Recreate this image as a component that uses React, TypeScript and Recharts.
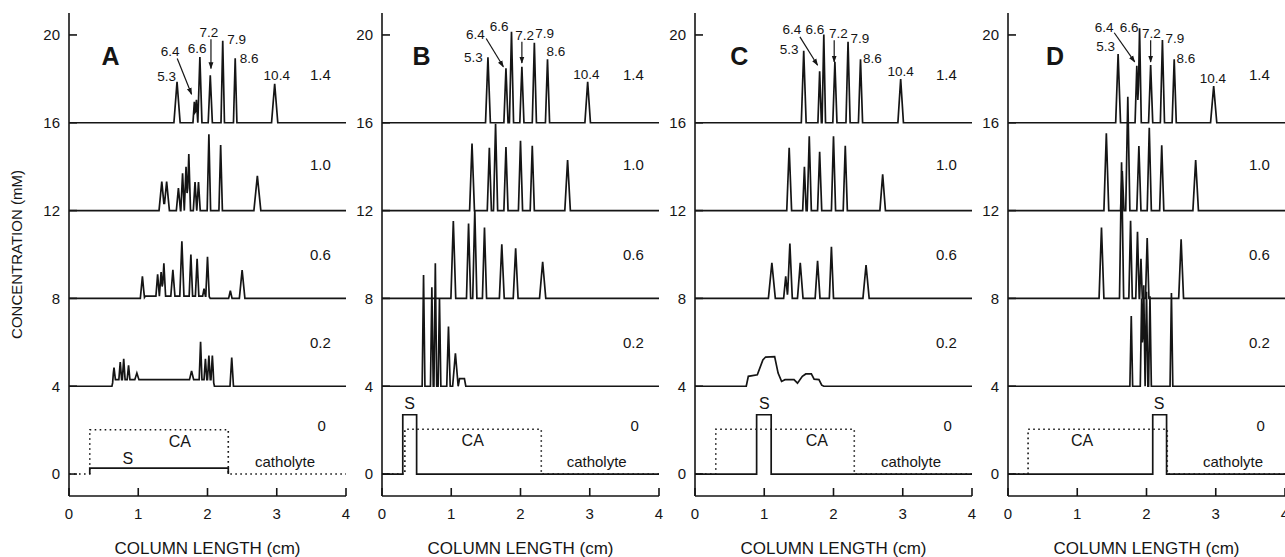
import { LineChart, Line, XAxis, YAxis, ReferenceDot, ReferenceLine } from 'recharts';

// column length ticks (cm) and concentration ticks (mM)
const X_TICKS = [0, 1, 2, 3, 4];
const Y_TICKS = [0, 4, 8, 12, 16, 20];

// vertical offsets of the stacked traces and their labels (current, mA)
const OFFSETS = [16, 12, 8, 4];
const RUN_LABELS = ['1.4', '1.0', '0.6', '0.2', '0'];
const RUN_LABEL_Y = [18.2, 14.1, 10.0, 6.0, 2.2];
const PI_LABELS = ['5.3', '6.4', '6.6', '7.2', '7.9', '8.6', '10.4'];

// peaks: [position cm, height mM, half width cm, flat half-top cm]
const A_14 = [[1.56, 1.86, 0.045], [1.81, 0.95, 0.02], [1.84, 1.05, 0.02], [1.89, 3.0, 0.03], [2.04, 2.16, 0.03], [2.22, 3.74, 0.025], [2.4, 2.94, 0.025], [2.97, 1.78, 0.045]];
const A_10 = [[1.34, 1.32, 0.04], [1.41, 1.32, 0.04], [1.58, 1.03, 0.03], [1.64, 1.7, 0.025], [1.69, 2.0, 0.025], [1.73, 2.58, 0.025], [1.82, 1.3, 0.025], [1.87, 1.3, 0.025], [2.02, 3.48, 0.025], [2.19, 2.99, 0.025], [2.72, 1.58, 0.05]];
const A_06 = [[1.56, 0.1, 0.02, 0.46], [1.06, 1.0, 0.03], [1.28, 1.0, 0.025], [1.33, 1.1, 0.025], [1.37, 1.5, 0.025], [1.5, 1.2, 0.03], [1.63, 2.5, 0.03], [1.76, 1.9, 0.025], [1.85, 1.7, 0.025], [1.95, 0.35, 0.02], [2.0, 1.8, 0.025], [2.33, 0.35, 0.025], [2.5, 1.29, 0.04]];
const A_02 = [[1.36, 0.3, 0.02, 0.72], [0.65, 0.55, 0.02], [0.74, 0.8, 0.02], [0.79, 0.95, 0.02], [0.86, 0.65, 0.02], [0.98, 0.3, 0.03], [1.77, 0.4, 0.03], [1.9, 1.73, 0.02], [1.97, 0.95, 0.02], [2.02, 1.1, 0.02], [2.07, 1.1, 0.02], [2.35, 1.31, 0.025]];

const B_14 = [[1.53, 2.98, 0.035], [1.79, 2.48, 0.03], [1.87, 4.14, 0.03], [2.02, 2.55, 0.03], [2.2, 3.64, 0.03], [2.39, 2.89, 0.03], [2.97, 1.87, 0.04]];
const B_10 = [[1.3, 3.06, 0.035], [1.55, 2.86, 0.03], [1.64, 3.95, 0.03], [1.79, 2.9, 0.03], [2.0, 3.18, 0.03], [2.17, 2.95, 0.03], [2.68, 2.3, 0.04]];
const B_06 = [[1.03, 3.53, 0.035], [1.25, 3.41, 0.03], [1.34, 4.02, 0.03], [1.48, 3.23, 0.03], [1.73, 2.46, 0.035], [1.93, 2.28, 0.035], [2.32, 1.67, 0.045]];
const B_02 = [[0.6, 5.07, 0.02], [0.72, 4.51, 0.02], [0.77, 5.6, 0.02], [0.83, 4.0, 0.02], [0.96, 2.72, 0.025], [1.06, 1.5, 0.04], [1.155, 0.35, 0.02, 0.035]];

const C_14 = [[1.57, 3.28, 0.035], [1.8, 2.35, 0.025], [1.86, 4.02, 0.025], [2.02, 2.78, 0.03], [2.21, 3.69, 0.03], [2.39, 2.89, 0.03], [2.97, 1.99, 0.04]];
const C_10 = [[1.36, 2.86, 0.035], [1.58, 2.0, 0.025], [1.65, 3.39, 0.03], [1.8, 2.68, 0.03], [2.0, 3.39, 0.03], [2.17, 2.95, 0.03], [2.71, 1.65, 0.04]];
const C_06 = [[1.11, 1.62, 0.05], [1.31, 1.0, 0.03], [1.37, 2.5, 0.035], [1.52, 1.62, 0.04], [1.77, 1.71, 0.035], [1.97, 2.35, 0.03], [2.47, 1.52, 0.045]];
// this trace is drawn point by point: [cm, mM above baseline]
const C_02_POINTS = [[0, 0], [0.74, 0], [0.77, 0.45], [0.9, 0.52], [0.98, 1.2], [1.02, 1.33], [1.15, 1.35], [1.2, 0.6], [1.25, 0.22], [1.3, 0.3], [1.43, 0.3], [1.48, 0.14], [1.55, 0.45], [1.6, 0.56], [1.68, 0.56], [1.72, 0.32], [1.79, 0.3], [1.83, 0.05], [1.86, 0], [4, 0]];

const D_14 = [[1.59, 3.13, 0.035], [1.86, 2.6, 0.025], [1.9, 4.3, 0.025], [2.06, 2.63, 0.03], [2.23, 3.77, 0.03], [2.4, 2.89, 0.03], [2.97, 1.67, 0.045]];
const D_10 = [[1.42, 3.52, 0.035], [1.65, 1.8, 0.025], [1.73, 5.18, 0.03], [1.89, 2.94, 0.03], [2.04, 3.77, 0.03], [2.22, 2.98, 0.03], [2.71, 2.3, 0.04]];
const D_06 = [[1.35, 3.23, 0.035], [1.64, 6.2, 0.03], [1.77, 3.54, 0.025], [1.87, 3.04, 0.025], [1.92, 1.8, 0.02], [2.01, 2.75, 0.025], [2.5, 2.69, 0.035]];
const D_02 = [[1.78, 3.2, 0.02], [1.93, 4.0, 0.02], [1.96, 4.6, 0.02], [2.0, 4.3, 0.02], [2.05, 4.1, 0.02], [2.36, 4.25, 0.02]];

// initial state: sample (S, solid) and carrier ampholytes (CA, dotted)
const A_S = [[0.3, 0], [0.3, 0.27], [2.3, 0.27], [2.3, 0]];
const A_CA = [[0, 0], [0.3, 0], [0.3, 2.02], [2.3, 2.02], [2.3, 0], [4, 0]];
const B_S = [[0, 0], [0.3, 0], [0.3, 2.7], [0.5, 2.7], [0.5, 0], [4, 0]];
const B_CA = [[0, 0], [0.33, 0], [0.33, 2.04], [2.3, 2.04], [2.3, 0], [4, 0]];
const C_S = [[0, 0], [0.89, 0], [0.89, 2.7], [1.1, 2.7], [1.1, 0], [4, 0]];
const C_CA = [[0, 0], [0.3, 0], [0.3, 2.04], [2.3, 2.04], [2.3, 0], [4, 0]];
const D_S = [[0, 0], [2.09, 0], [2.09, 2.7], [2.29, 2.7], [2.29, 0], [4, 0]];
const D_CA = [[0, 0], [0.29, 0], [0.29, 2.04], [2.3, 2.04], [2.3, 0], [4, 0]];

// pI label positions [cm, mM] and arrows [x1, y1, x2, y2]
const A_PI_POS = [[1.41, 18.12], [1.46, 19.28], [1.85, 19.41], [2.02, 20.14], [2.42, 19.8], [2.6, 18.93], [3.0, 18.17]];
const B_PI_POS = [[1.32, 18.98], [1.35, 20.04], [1.69, 20.4], [2.06, 19.99], [2.35, 20.07], [2.51, 19.24], [2.95, 18.21]];
const C_PI_POS = [[1.36, 19.34], [1.4, 20.25], [1.73, 20.25], [2.07, 20.07], [2.38, 19.87], [2.56, 18.93], [2.97, 18.37]];
const D_PI_POS = [[1.41, 19.49], [1.39, 20.37], [1.75, 20.37], [2.07, 20.1], [2.41, 19.87], [2.57, 18.96], [2.96, 18.02]];
const A_ARROWS = [[1.563, 18.93, 1.77, 17.3], [2.05, 19.8, 2.05, 18.47]];
const B_ARROWS = [[1.504, 19.84, 1.753, 18.55], [2.02, 19.69, 2.02, 18.72]];
const C_ARROWS = [[1.515, 19.91, 1.77, 18.62], [2.01, 19.76, 2.01, 18.77]];
const D_ARROWS = [[1.534, 20.1, 1.83, 18.77], [2.06, 19.76, 2.06, 18.77]];

// text positions [cm, mM]: S, CA, catholyte, panel letter
const A_TEXT = [[0.85, 0.72], [1.6, 1.5], [3.12, 0.55], [0.6, 19.05]];
const B_TEXT = [[0.4, 3.23], [1.31, 1.55], [3.1, 0.56], [0.57, 19.05]];
const C_TEXT = [[1.0, 3.23], [1.76, 1.55], [3.12, 0.56], [0.64, 19.05]];
const D_TEXT = [[2.18, 3.23], [1.07, 1.55], [3.25, 0.56], [0.68, 19.05]];

const INK = '#151515';
const FONT = '"Liberation Sans", Arial, sans-serif';

function buildTrace(offset: number, peaks: number[][]) {
  const xs = new Set<number>([0, 4]);
  peaks.forEach(([c, , w, t = 0]) => {
    [c - t - w, c - t, c + t, c + t + w].forEach((v) => xs.add(+v.toFixed(4)));
  });
  return [...xs]
    .sort((a, b) => a - b)
    .map((x) => ({
      x,
      y:
        offset +
        peaks.reduce((s, [c, h, w, t = 0]) => {
          const d = Math.abs(x - c) - t;
          return s + (d <= 0 ? h : d < w ? h * (1 - d / w) : 0);
        }, 0),
    }));
}

const toPoints = (offset: number, pts: number[][]) => pts.map(([x, y]) => ({ x, y: offset + y }));

const PANELS = [
  { id: 'A', left: 69, yw: 69, traces: [A_14, A_10, A_06, A_02], extra: null, s: A_S, ca: A_CA, pi: A_PI_POS, arrows: A_ARROWS, text: A_TEXT },
  { id: 'B', left: 382, yw: 36, traces: [B_14, B_10, B_06, B_02], extra: null, s: B_S, ca: B_CA, pi: B_PI_POS, arrows: B_ARROWS, text: B_TEXT },
  { id: 'C', left: 695, yw: 36, traces: [C_14, C_10, C_06], extra: C_02_POINTS, s: C_S, ca: C_CA, pi: C_PI_POS, arrows: C_ARROWS, text: C_TEXT },
  { id: 'D', left: 1008, yw: 36, traces: [D_14, D_10, D_06, D_02], extra: null, s: D_S, ca: D_CA, pi: D_PI_POS, arrows: D_ARROWS, text: D_TEXT },
];

const axisLine = { stroke: INK, strokeWidth: 1.6 };
const tickStyle = { fontSize: 15, fill: INK, fontFamily: FONT };
const LW = 1.7;

function Panel({ p }: { p: (typeof PANELS)[number] }) {
  const width = p.yw + 277 + 6;
  const lines = p.traces.map((pk, i) => buildTrace(OFFSETS[i], pk));
  if (p.extra) lines.push(toPoints(4, p.extra));
  const ax = { xAxisId: 'b', yAxisId: 'l' };
  const textLabels = ['S', 'CA', 'catholyte', p.id];
  return (
    <div style={{ position: 'absolute', left: p.left - p.yw, top: 0 }}>
      <LineChart width={width} height={557} margin={{ top: 13, right: 6, bottom: 0, left: 0 }}>
        <defs>
          <marker id={`arrow${p.id}`} viewBox="0 0 10 10" refX="9" refY="5" markerWidth="7" markerHeight="7" orient="auto" markerUnits="userSpaceOnUse">
            <path d="M0,1.5 L10,5 L0,8.5 z" fill={INK} />
          </marker>
        </defs>
        <XAxis
          xAxisId="b"
          type="number"
          dataKey="x"
          domain={[0, 4]}
          allowDataOverflow
          ticks={X_TICKS}
          height={61}
          tickSize={-8}
          tickMargin={20}
          axisLine={axisLine}
          tickLine={axisLine}
          tick={tickStyle}
          label={{ value: 'COLUMN LENGTH (cm)', position: 'insideBottom', offset: 3, fontSize: 17, fill: INK, fontFamily: FONT }}
        />
        <XAxis xAxisId="t" orientation="top" type="number" dataKey="x" domain={[0, 4]} allowDataOverflow ticks={X_TICKS} height={0} tickSize={-7} tick={false} axisLine={axisLine} tickLine={axisLine} />
        <YAxis
          yAxisId="l"
          type="number"
          domain={[-1, 21]}
          allowDataOverflow
          ticks={Y_TICKS}
          width={p.yw}
          tickSize={-8}
          tickMargin={17}
          axisLine={axisLine}
          tickLine={axisLine}
          tick={tickStyle}
          label={
            p.id === 'A'
              ? { value: 'CONCENTRATION (mM)', angle: -90, position: 'insideLeft', offset: 17, fontSize: 15, fill: INK, fontFamily: FONT, style: { textAnchor: 'middle' } }
              : undefined
          }
        />
        <YAxis yAxisId="r" orientation="right" type="number" domain={[-1, 21]} allowDataOverflow ticks={Y_TICKS} width={0} tickSize={-8} tick={false} axisLine={axisLine} tickLine={axisLine} />

        <Line {...ax} data={toPoints(0, p.ca)} dataKey="y" stroke={INK} strokeWidth={1.6} strokeDasharray="1.6 3.4" dot={false} isAnimationActive={false} />
        <Line {...ax} data={toPoints(0, p.s)} dataKey="y" stroke={INK} strokeWidth={LW} dot={false} isAnimationActive={false} />
        {lines.map((d, i) => (
          <Line key={i} {...ax} data={d} dataKey="y" stroke={INK} strokeWidth={LW} dot={false} isAnimationActive={false} />
        ))}

        {RUN_LABELS.map((t, i) => (
          <ReferenceDot key={t} {...ax} x={i === 4 ? 3.65 : 3.63} y={RUN_LABEL_Y[i]} r={0} fill="none" stroke="none" label={{ value: t, position: 'center', fontSize: 15, fill: INK, fontFamily: FONT }} />
        ))}
        {PI_LABELS.map((t, i) => (
          <ReferenceDot key={t} {...ax} x={p.pi[i][0]} y={p.pi[i][1]} r={0} fill="none" stroke="none" label={{ value: t, position: 'center', fontSize: 13.5, fill: INK, fontFamily: FONT }} />
        ))}
        {p.arrows.map(([x1, y1, x2, y2], i) => (
          <ReferenceLine key={i} {...ax} segment={[{ x: x1, y: y1 }, { x: x2, y: y2 }]} stroke={INK} strokeWidth={1.2} markerEnd={`url(#arrow${p.id})`} />
        ))}
        {textLabels.map((t, i) => (
          <ReferenceDot
            key={t}
            {...ax}
            x={p.text[i][0]}
            y={p.text[i][1]}
            r={0}
            fill="none"
            stroke="none"
            label={{ value: t, position: 'center', fontSize: i === 3 ? 25 : i === 2 ? 15 : 16, fontWeight: i === 3 ? 'bold' : 'normal', fill: INK, fontFamily: FONT }}
          />
        ))}
      </LineChart>
    </div>
  );
}

export default function App() {
  return (
    <div style={{ position: 'absolute', left: 0, top: 0, width: 1285, height: 557, overflow: 'hidden', background: '#fff', fontFamily: FONT }}>
      {PANELS.map((p) => (
        <Panel key={p.id} p={p} />
      ))}
    </div>
  );
}
